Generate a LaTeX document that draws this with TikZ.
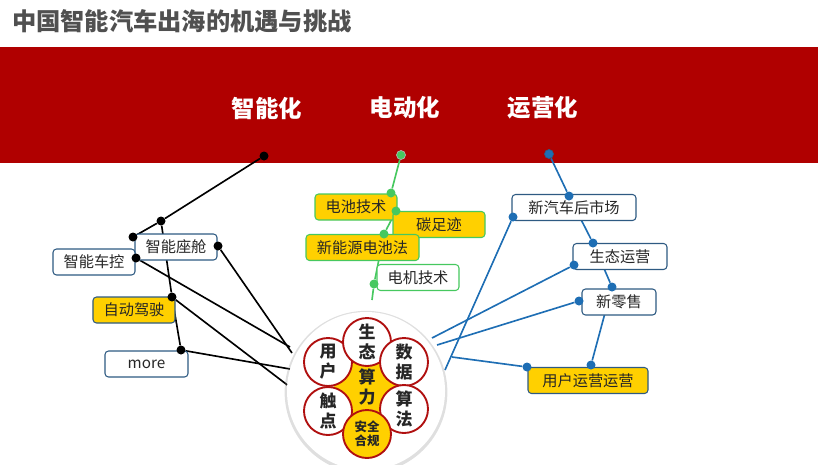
\documentclass[tikz,border=0pt]{standalone}
\usepackage{fontspec}
\setmainfont{Noto Sans CJK SC}
\usetikzlibrary{shadows}
\definecolor{bandred}{RGB}{176,0,0}
\definecolor{titlegray}{RGB}{80,80,80}
\definecolor{boxblue}{RGB}{46,90,130}
\definecolor{linkblue}{RGB}{30,110,180}
\definecolor{linkgreen}{RGB}{70,200,95}
\definecolor{hlyellow}{RGB}{255,208,0}
\definecolor{ringred}{RGB}{176,16,16}
\pgfdeclarelayer{bg}
\pgfsetlayers{bg,main}

\begin{document}
\begin{tikzpicture}[x=0.03cm, y=-0.03cm,
      box/.style={rectangle, rounded corners=3pt, draw=boxblue, line width=0.9pt, fill=white,
                  minimum height=0.78cm, inner sep=0pt, text=black!85,
                  font=\fontsize{13}{15}\selectfont},
      gbox/.style={box, draw=linkgreen},
      yel/.style={fill=hlyellow},
      dot/.style={circle, fill, inner sep=0pt, minimum size=0.27cm},
      link/.style={line width=1.4pt},
      ring/.style={circle, draw=ringred, line width=1.6pt, fill=white, minimum size=1.44cm,
                   inner sep=0pt, align=center, text=black!85,
                   font=\bfseries\fontsize{14.5}{17}\selectfont},
      band/.style={text=white, font=\bfseries\fontsize{20}{24}\selectfont}]
    \useasboundingbox (0,0) rectangle (818,464);

    % title and red band
    \node[anchor=west, text=titlegray, font=\bfseries\fontsize{20.7}{24}\selectfont] (title) at (8,21) {中国智能汽车出海的机遇与挑战};
    \begin{pgfonlayer}{bg}
      \fill[bandred] (0,47) rectangle (818,163);
    \end{pgfonlayer}
    \node[band] (smart) at (267,108) {智能化};
    \node[band] (elec)  at (405,108) {电动化};
    \node[band] (oper)  at (543,108) {运营化};

    % 智能化 branch
    \node[box, minimum width=2.46cm] (cabin) at (176,247) {智能座舱};
    \node[box, minimum width=2.46cm] (chassis) at (94,262) {智能车控};
    \node[box, yel, minimum width=2.46cm] (adas) at (134,310) {自动驾驶};
    \node[box, minimum width=2.49cm] (more) at (146.5,364) {more};
    \node[dot] (d0) at (264,156) {};
    \node[dot] (d1) at (161,221) {};
    \node[dot] (d2) at (133,237) {};
    \node[dot] (d3) at (136,258) {};
    \node[dot] (d4) at (218,246) {};
    \node[dot] (d5) at (172,297) {};
    \node[dot] (d6) at (181,350) {};

    % 电动化 branch
    \node[gbox, yel, minimum width=2.46cm] (batt) at (356,207) {电池技术};
    \node[gbox, yel, minimum width=2.76cm] (carbon) at (439,224.5) {碳足迹};
    \node[gbox, yel, minimum width=3.39cm] (law) at (362.5,247.5) {新能源电池法};
    \node[gbox, minimum width=2.46cm] (motor) at (418,277.5) {电机技术};
    \node[dot, fill=linkgreen, draw=gray!60, line width=0.6pt] (g0) at (401,155) {};
    \node[dot, fill=linkgreen] (g1) at (391,193) {};
    \node[dot, fill=linkgreen] (g2) at (396,211) {};
    \node[dot, fill=linkgreen] (g3) at (384,234) {};
    \node[dot, fill=linkgreen] (g4) at (374,284) {};
    \coordinate (g5) at (372,300);

    % 运营化 branch
    \node[box, minimum width=3.72cm] (after) at (574,207.5) {新汽车后市场};
    \node[box, minimum width=2.82cm] (eco) at (620,256.5) {生态运营};
    \node[box, minimum width=2.22cm] (retail) at (619,302) {新零售};
    \node[box, yel, minimum width=3.6cm] (userop) at (588,380.5) {用户运营运营};
    \node[dot, fill=linkblue, draw=boxblue, line width=0.6pt] (b0) at (549,154) {};
    \node[dot, fill=linkblue] (b1) at (569,196) {};
    \node[dot, fill=linkblue] (b2) at (513,217) {};
    \node[dot, fill=linkblue] (b3) at (593,243) {};
    \node[dot, fill=linkblue] (b4) at (574,265) {};
    \node[dot, fill=linkblue] (b5) at (612,287) {};
    \node[dot, fill=linkblue] (b6) at (579,301) {};
    \node[dot, fill=linkblue] (b7) at (591,365) {};
    \node[dot, fill=linkblue] (b8) at (527,367) {};

    % free ends at the hub
    \coordinate (hcab) at (292,353);
    \coordinate (hchs) at (290,347);
    \coordinate (hadas) at (290,387);
    \coordinate (hmore) at (290,369);
    \coordinate (hafter) at (445,370);
    \coordinate (heco) at (432,338);
    \coordinate (hretail) at (437,345);
    \coordinate (huser) at (452,357);

    \begin{pgfonlayer}{bg}
      \draw[link] (d0) -- (d1) -- (d2);
      \draw[link] (d1) -- (d5) -- (d6);
      \draw[link] (d4) -- (hcab);
      \draw[link] (d3) -- (hchs);
      \draw[link] (d5) -- (hadas);
      \draw[link] (d6) -- (hmore);
      \draw[link, linkgreen] (g0) -- (g1) -- (g2) -- (g3) -- (g4) -- (g5);
      \draw[link, linkblue] (b0) -- (b1) -- (b3) -- (b5) -- (b7);
      \draw[link, linkblue] (b2) -- (hafter);
      \draw[link, linkblue] (b4) -- (heco);
      \draw[link, linkblue] (b6) -- (hretail);
      \draw[link, linkblue] (b8) -- (huser);
    \end{pgfonlayer}

    % hub with the six rings
    \node[circle, fill=white, minimum size=4.74cm,
          drop shadow={shadow xshift=0pt, shadow yshift=-1pt, opacity=0.25, shadow scale=1.03}] (hub) at (366,391) {};
    \node[circle, fill=hlyellow, minimum size=1.98cm] (core) at (367,388) {};
    \node[ring] (user) at (328,362) {用\\户};
    \node[ring] (touch) at (328,411) {触\\点};
    \node[ring] (ecosys) at (367,342) {生\\态};
    \node[ring] (data) at (404,362) {数\\据};
    \node[ring] (algo) at (404,409) {算\\法};
    \node[ring, yel, font=\bfseries\fontsize{10.6}{12}\selectfont] (safe) at (367,434) {安全\\合规};
    \node[align=center, text=black!85, font=\bfseries\fontsize{14.5}{17}\selectfont] (power) at (367,387) {算\\力};
  \end{tikzpicture}
\end{document}
